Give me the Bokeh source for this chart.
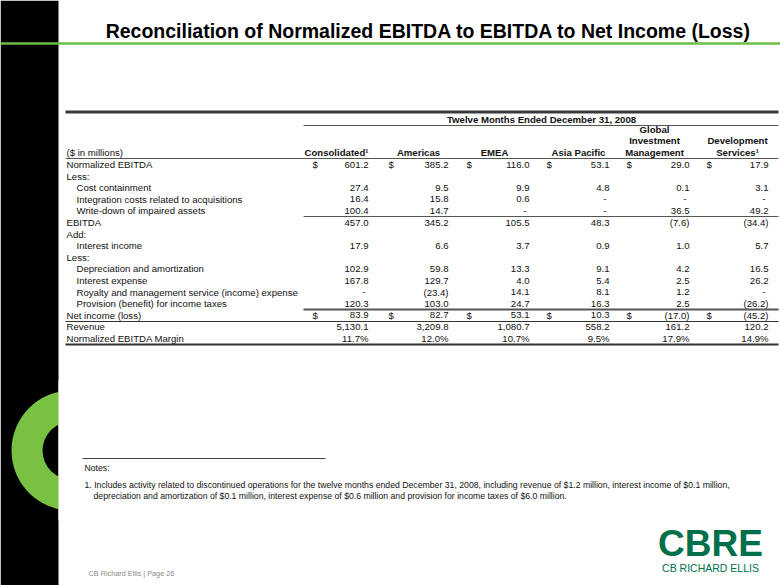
from bokeh.plotting import figure
from bokeh.models import Range1d, ColumnDataSource
from bokeh.embed import file_html
from bokeh.resources import INLINE
from bokeh.core.properties import value

# ---------------- data ----------------
title = "Reconciliation of Normalized EBITDA to EBITDA to Net Income (Loss)"
period_label = "Twelve Months Ended December 31, 2008"
unit_label = "($ in millions)"
column_headers = [["Consolidated¹"], ["Americas"], ["EMEA"], ["Asia Pacific"],
                  ["Global", "Investment", "Management"], ["Development", "Services¹"]]
row_labels = ["Normalized EBITDA", "Less:", "Cost containment",
              "Integration costs related to acquisitions", "Write-down of impaired assets",
              "EBITDA", "Add:", "Interest income", "Less:", "Depreciation and amortization",
              "Interest expense", "Royalty and management service (income) expense",
              "Provision (benefit) for income taxes", "Net income (loss)", "Revenue",
              "Normalized EBITDA Margin"]
row_indent = [0, 0, 1, 1, 1, 0, 0, 1, 0, 1, 1, 1, 1, 0, 0, 0]
dollar_rows = ["Normalized EBITDA", "Net income (loss)"]
percent_rows = ["Normalized EBITDA Margin"]

consolidated = [601.2, None, 27.4, 16.4, 100.4, 457.0, None, 17.9, None, 102.9, 167.8, 0, 120.3, 83.9, 5130.1, 11.7]
americas = [385.2, None, 9.5, 15.8, 14.7, 345.2, None, 6.6, None, 59.8, 129.7, -23.4, 103.0, 82.7, 3209.8, 12.0]
emea = [116.0, None, 9.9, 0.6, 0, 105.5, None, 3.7, None, 13.3, 4.0, 14.1, 24.7, 53.1, 1080.7, 10.7]
asia_pacific = [53.1, None, 4.8, 0, 0, 48.3, None, 0.9, None, 9.1, 5.4, 8.1, 16.3, 10.3, 558.2, 9.5]
global_investment_mgmt = [29.0, None, 0.1, 0, 36.5, -7.6, None, 1.0, None, 4.2, 2.5, 1.2, 2.5, -17.0, 161.2, 17.9]
development_services = [17.9, None, 3.1, 0, 49.2, -34.4, None, 5.7, None, 16.5, 26.2, 0, -26.2, -45.2, 120.2, 14.9]
series = [consolidated, americas, emea, asia_pacific, global_investment_mgmt, development_services]

notes_title = "Notes:"
note_lines = ["1. Includes activity related to discontinued operations for the twelve months ended December 31, 2008, including revenue of $1.2 million, interest income of $0.1 million,",
              "depreciation and amortization of $0.1 million, interest expense of $0.6 million and provision for income taxes of $6.0 million."]
footer = "CB Richard Ellis  |  Page 26"
logo_big = "CBRE"
logo_small = "CB RICHARD ELLIS"

# ---------------- layout / style ----------------
FONT = value("Liberation Sans")
TXT = "#111111"
LINE = "#555555"
GREEN = "#6DBE45"
LOGO_GREEN = "#00704A"
FS = "9.6px"

row_y0, row_step = 164, 11.6
col_right = [368, 448, 529, 609, 689, 768]
col_dollar = [312, 388, 466, 546, 626, 706]
col_center = [336, 418, 494, 578, 654, 737]
label_x, indent_x = 66, 76
tbl_left, tbl_right, data_left = 65, 778, 303

p = figure(width=780, height=585, output_backend="svg", toolbar_location=None,
           x_range=Range1d(0, 780), y_range=Range1d(585, 0), min_border=0)
p.axis.visible = False
p.grid.visible = False
p.outline_line_color = None
p.background_fill_color = "white"
p.border_fill_color = "white"

# left black bar and ring
p.quad(left=[0], right=[58], top=[0], bottom=[590], fill_color="black", line_color=None)
p.annulus(x=[71], y=[450], inner_radius=29, outer_radius=60, fill_color="#79C143", line_color=None)
p.quad(left=[58], right=[140], top=[380], bottom=[520], fill_color="white", line_color=None)

# title and green rule
p.segment(x0=[0], y0=[43], x1=[780], y1=[43], line_color=GREEN, line_width=2.5)
p.text(x=[428], y=[30], text=[title], text_font=FONT, text_font_style="bold",
       text_font_size="19.5px", text_align="center", text_baseline="middle", text_color="black")

# table rules
p.segment(x0=[tbl_left], y0=[111.5], x1=[tbl_right], y1=[111.5], line_color="#3a3a3a", line_width=3)
p.segment(x0=[data_left], y0=[125], x1=[tbl_right], y1=[125], line_color=LINE, line_width=1)
p.segment(x0=[tbl_left], y0=[158], x1=[tbl_right], y1=[158], line_color=LINE, line_width=1)
p.segment(x0=[data_left], y0=[216], x1=[tbl_right], y1=[216], line_color=LINE, line_width=1)
p.segment(x0=[data_left], y0=[309], x1=[tbl_right], y1=[309], line_color=LINE, line_width=2)
p.segment(x0=[tbl_left], y0=[321], x1=[tbl_right], y1=[321], line_color="#333333", line_width=1.2)
p.segment(x0=[tbl_left], y0=[344], x1=[tbl_right], y1=[344], line_color="#333333", line_width=2.2)

# headers
p.text(x=[541], y=[119], text=[period_label], text_font=FONT, text_font_style="bold",
       text_font_size=FS, text_align="center", text_baseline="middle", text_color=TXT)
p.text(x=[label_x], y=[152], text=[unit_label], text_font=FONT, text_font_size=FS,
       text_align="left", text_baseline="middle", text_color=TXT)
hx, hy, ht = [], [], []
for c, lines in enumerate(column_headers):
    n = len(lines)
    for k, t in enumerate(lines):
        hx.append(col_center[c])
        hy.append(152 - (n - 1 - k) * 11.6)
        ht.append(t)
p.text(x="x", y="y", text="t", source=ColumnDataSource(dict(x=hx, y=hy, t=ht)),
       text_font=FONT, text_font_style="bold", text_font_size=FS, text_align="center",
       text_baseline="middle", text_color=TXT)

# row labels
lx, ly, lt = [], [], []
for i, lab in enumerate(row_labels):
    lx.append(indent_x if row_indent[i] else label_x)
    ly.append(row_y0 + i * row_step)
    lt.append(lab)
p.text(x="x", y="y", text="t", source=ColumnDataSource(dict(x=lx, y=ly, t=lt)),
       text_font=FONT, text_font_size=FS, text_align="left", text_baseline="middle", text_color=TXT)


def fmt(v, pct):
    if v == 0:
        return "-"
    s = f"{abs(v):,.1f}" + ("%" if pct else "")
    return f"({s})" if v < 0 else s


vx, vy, vt = [], [], []
dx, dy = [], []
for c, vals in enumerate(series):
    for i, v in enumerate(vals):
        if v is None:
            continue
        pct = row_labels[i] in percent_rows
        s = fmt(v, pct)
        vx.append(col_right[c] - (3 if s == "-" else 0))
        vy.append(row_y0 + i * row_step)
        vt.append(s)
        if row_labels[i] in dollar_rows:
            dx.append(col_dollar[c])
            dy.append(row_y0 + i * row_step)
p.text(x="x", y="y", text="t", source=ColumnDataSource(dict(x=vx, y=vy, t=vt)),
       text_font=FONT, text_font_size=FS, text_align="right", text_baseline="middle", text_color=TXT)
p.text(x="x", y="y", text="t", source=ColumnDataSource(dict(x=dx, y=dy, t=["$"] * len(dx))),
       text_font=FONT, text_font_size=FS, text_align="left", text_baseline="middle", text_color=TXT)

# notes
p.segment(x0=[82], y0=[458], x1=[325], y1=[458], line_color="#444444", line_width=1)
p.text(x=[84], y=[467], text=[notes_title], text_font=FONT, text_font_size="8.7px",
       text_align="left", text_baseline="middle", text_color=TXT)
p.text(x=[84, 93], y=[484, 495], text=note_lines, text_font=FONT, text_font_size="8.7px",
       text_align="left", text_baseline="middle", text_color=TXT)

# footer and logo
p.text(x=[88], y=[573], text=[footer], text_font=FONT, text_font_size="7.3px",
       text_align="left", text_baseline="middle", text_color="#8a8a8a")
p.text(x=[710], y=[543], text=[logo_big], text_font=FONT, text_font_style="bold",
       text_font_size="37px", text_align="center", text_baseline="middle", text_color=LOGO_GREEN)
p.text(x=[710], y=[567], text=[logo_small], text_font=FONT,
       text_font_size="10.5px", text_align="center", text_baseline="middle", text_color=LOGO_GREEN)

open("out.html", "w").write(file_html(p, INLINE))
